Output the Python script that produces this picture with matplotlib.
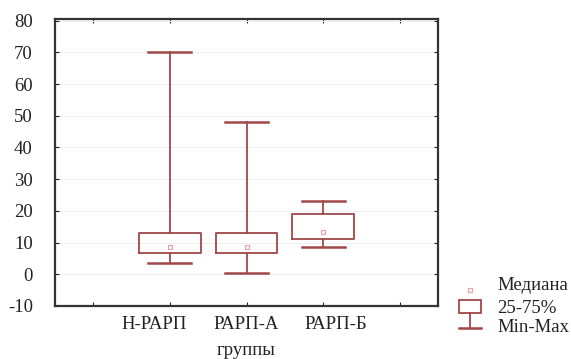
import matplotlib.pyplot as plt
from matplotlib.lines import Line2D
from matplotlib.patches import Rectangle

# data
groups = ["H-РАРП", "РАРП-А", "РАРП-Б"]
mins = [3.5, 0.5, 8.7]
q25 = [6.6, 6.6, 11.2]
medians = [8.7, 8.5, 13.4]
q75 = [13.0, 13.0, 18.9]
maxs = [70, 48, 23.2]
legend_labels = ["Медиана", "25-75%", "Min-Max"]

col = "#a04848"
med_col = "#e2a8a8"
fs = 13.5

plt.rcParams["font.family"] = ["Liberation Serif", "DejaVu Serif"]
plt.rcParams["axes.unicode_minus"] = False

W, H = 571, 359
fig = plt.figure(figsize=(W / 100, H / 100), dpi=100)
ax = fig.add_axes([55 / W, 1 - 306 / H, (438 - 55) / W, (306 - 19) / H])

pos = [1, 2, 3]
stats = []
for i, g in enumerate(groups):
    stats.append({"label": g, "whislo": mins[i], "q1": q25[i], "med": medians[i],
                  "q3": q75[i], "whishi": maxs[i]})

ax.bxp(stats, positions=pos, widths=0.8, showfliers=False, manage_ticks=False,
       boxprops=dict(color=col, lw=1.3),
       whiskerprops=dict(color=col, lw=1.3),
       capprops=dict(color=col, lw=1.8),
       capwidths=0.56,
       medianprops=dict(lw=0))
ax.plot(pos, medians, ls="none", marker="s", ms=3.5, mfc="white", mec=med_col, mew=0.9)

ax.set_xlim(-0.5, 4.5)
ax.set_ylim(-10, 80.5)
ax.set_xticks([0, 1, 2, 3, 4])
ax.set_xticklabels([])
ax.set_yticks(range(-10, 81, 10))
ax.yaxis.grid(True, color="#f0f0f0", lw=0.8)
ax.set_axisbelow(True)
ax.tick_params(direction="in", length=3, width=0.8, top=True, right=True,
               labelsize=fs, colors="#222222")
ax.tick_params(axis="y", pad=16)
for s in ax.spines.values():
    s.set_linewidth(1.6)
    s.set_color("#333333")

# group labels, spread a little like in the original
label_x = [0.8, 2.0, 3.17]
for x, g in zip(label_x, groups):
    ax.text(x, -0.035, g, transform=ax.get_xaxis_transform(), ha="center", va="top",
            fontsize=fs, color="#222222")
ax.text(2.0, -0.125, "группы", transform=ax.get_xaxis_transform(), ha="center", va="top",
        fontsize=fs, color="#222222")

# legend drawn by hand in figure pixels
def fx(px):
    return px / W

def fy(py):
    return 1 - py / H

fig.add_artist(Line2D([fx(470)], [fy(290)], ls="none", marker="s", ms=3.5,
                      mfc="white", mec=med_col, mew=0.9))
fig.add_artist(Rectangle((fx(459), fy(313)), fx(481) - fx(459), fy(300) - fy(313),
                         fc="white", ec=col, lw=1.3, transform=fig.transFigure))
fig.add_artist(Line2D([fx(470), fx(470)], [fy(313), fy(328)], color=col, lw=1.3))
fig.add_artist(Line2D([fx(459), fx(481)], [fy(328), fy(328)], color=col, lw=1.8))
for lab, py in zip(legend_labels, [286, 308.5, 327.5]):
    fig.text(fx(497), fy(py), lab, ha="left", va="center", fontsize=fs, color="#222222")

fig.savefig("out.png", dpi=100)
